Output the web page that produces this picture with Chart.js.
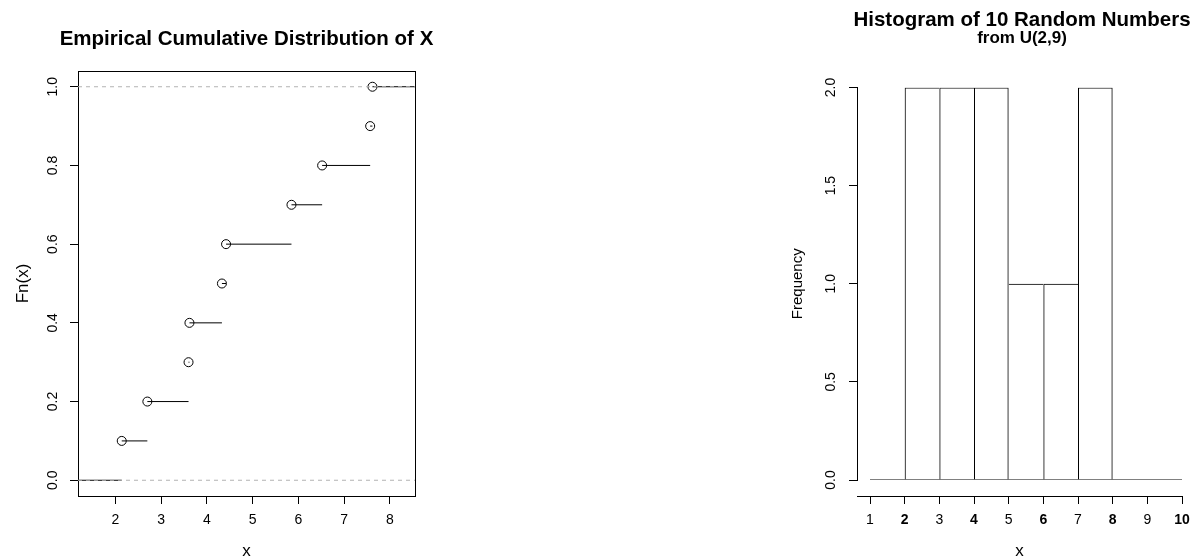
<!DOCTYPE html>
<html>
<head>
<meta charset="utf-8">
<script src="https://cdn.jsdelivr.net/npm/chart.js@4.4.1/dist/chart.umd.min.js"></script>
<style>
  html, body { margin: 0; padding: 0; background: #fff; overflow: hidden; width: 1193px; height: 560px; }
  #ecdf { position: absolute; left: 0; top: 0; }
  #hist { position: absolute; left: 700px; top: 0; }
</style>
</head>
<body>
<canvas id="ecdf" width="493" height="560"></canvas>
<canvas id="hist" width="644" height="560"></canvas>
<script>
// ---- ECDF panel data ----
const ecdfX = [2.14, 2.70, 3.60, 3.62, 4.33, 4.42, 5.85, 6.52, 7.57, 7.62];   // sorted sample
const ecdfY = [0.1, 0.2, 0.3, 0.4, 0.5, 0.6, 0.7, 0.8, 0.9, 1.0];            // Fn(x) levels
const ecdfXTicks = [2, 3, 4, 5, 6, 7, 8];
const ecdfYTicks = [0, 0.2, 0.4, 0.6, 0.8, 1.0];
const ecdfXRange = [1.184, 8.55];
const ecdfYRange = [-0.04, 1.04];
const refLevels = [0, 1];

// ---- Histogram panel data ----
const histBreaks = [1, 2, 3, 4, 5, 6, 7, 8, 9, 10];
const histCounts = [0, 2, 2, 2, 1, 1, 2, 0, 0];
const histXTicks = [1, 2, 3, 4, 5, 6, 7, 8, 9, 10];
const histYTicks = [0, 0.5, 1.0, 1.5, 2.0];
const histXRange = [0.625, 10];
const histYRange = [0, 2];

const FONT = "'Liberation Sans', Arial, Helvetica, sans-serif";
const TICK_SIZE = 14;
Chart.defaults.font.family = FONT;
Chart.defaults.color = '#000';

const mctx = document.createElement('canvas').getContext('2d');
function textWidth(t, size) { mctx.font = size + 'px ' + FONT; return mctx.measureText(t).width; }
const yLabelW = textWidth('0.0', TICK_SIZE);

const setTicks = list => axis => { axis.ticks = list.map(v => ({ value: v })); };
const fixWidth = w => axis => { axis.width = w; };
const fixHeight = h => axis => { axis.height = h; };

const axisGrid = { display: true, drawOnChartArea: false, drawTicks: true, tickLength: 8, color: '#000', lineWidth: 1 };
const axisBorder = { display: true, color: '#000', width: 1 };
const frameSide = (pos, size) => ({
  type: 'linear', position: pos, display: true,
  ticks: { display: false }, grid: { display: false }, border: axisBorder,
  afterFit: pos === 'top' ? fixHeight(size) : fixWidth(size)
});
const commonOpts = {
  responsive: false, animation: false, events: [], devicePixelRatio: 1,
  layout: { padding: 0 }
};

// ---- step segments of the empirical CDF ----
const stepLevels = [0, ...ecdfY];
const stepEdges = [ecdfXRange[0], ...ecdfX, ecdfXRange[1]];
const stepData = [];
for (let i = 0; i < stepLevels.length; i++) {
  stepData.push({ x: stepEdges[i], y: stepLevels[i] }, { x: stepEdges[i + 1], y: stepLevels[i] }, { x: stepEdges[i + 1], y: null });
}
const refData = [];
refLevels.forEach(l => refData.push({ x: ecdfXRange[0], y: l }, { x: ecdfXRange[1], y: l }, { x: ecdfXRange[1], y: null }));

new Chart(document.getElementById('ecdf'), {
  type: 'scatter',
  data: {
    datasets: [
      { type: 'line', data: refData, borderColor: '#b3b3b3', borderWidth: 1, borderDash: [4, 4], pointRadius: 0, order: 0 },
      { type: 'scatter', data: ecdfX.map((x, i) => ({ x: x, y: ecdfY[i] })), showLine: false,
        pointRadius: 4.5, pointBorderWidth: 1, pointBorderColor: '#000', pointBackgroundColor: 'rgba(0,0,0,0)', order: 1 },
      { type: 'line', data: stepData, borderColor: '#000', borderWidth: 1, pointRadius: 0, spanGaps: false, order: 2 }
    ]
  },
  options: Object.assign({}, commonOpts, {
    plugins: {
      legend: { display: false }, tooltip: { enabled: false },
      title: { display: true, text: 'Empirical Cumulative Distribution of X', color: '#000',
        font: { size: 20.5, weight: 'bold', lineHeight: 1.2 }, padding: { top: 27, bottom: 19.4 } }
    },
    scales: {
      x: {
        type: 'linear', position: 'bottom', min: ecdfXRange[0], max: ecdfXRange[1],
        afterBuildTicks: setTicks(ecdfXTicks), afterFit: fixHeight(64),
        ticks: { autoSkip: false, maxRotation: 0, padding: 7.9, font: { size: TICK_SIZE }, color: '#000', callback: v => String(v) },
        grid: axisGrid, border: axisBorder,
        title: { display: true, text: 'x', color: '#000', font: { size: 17, lineHeight: 1 }, padding: { top: 0, bottom: 0 } }
      },
      y: {
        type: 'linear', position: 'left', min: ecdfYRange[0], max: ecdfYRange[1],
        afterBuildTicks: setTicks(ecdfYTicks), afterFit: fixWidth(78),
        ticks: { autoSkip: false, minRotation: 90, maxRotation: 90, crossAlign: 'center', padding: 16.7 - yLabelW / 2,
          font: { size: TICK_SIZE }, color: '#000', callback: v => v.toFixed(1) },
        grid: axisGrid, border: axisBorder,
        title: { display: true, text: 'Fn(x)', color: '#000', font: { size: 17, lineHeight: 1 }, padding: { top: 14.5, bottom: 0 } }
      },
      xt: frameSide('top', 0),
      yr: frameSide('right', 78)
    }
  })
});

// ---- histogram ----
const binMid = histCounts.map((c, i) => (histBreaks[i] + histBreaks[i + 1]) / 2);
function barEdges(ctx) {
  const i = ctx.dataIndex;
  const c = histCounts[i];
  const prev = i > 0 ? histCounts[i - 1] : 0;
  const next = i < histCounts.length - 1 ? histCounts[i + 1] : 0;
  return { top: c > 0 ? 1 : 0, left: c > 0 && c >= prev ? 1 : 0, right: c > 0 && c > next ? 1 : 0, bottom: 0 };
}

new Chart(document.getElementById('hist'), {
  type: 'bar',
  data: {
    datasets: [
      { type: 'line', data: [{ x: histBreaks[0], y: 0 }, { x: histBreaks[histBreaks.length - 1], y: 0 }],
        borderColor: '#000', borderWidth: 1, pointRadius: 0, order: 0 },
      { type: 'bar', data: binMid.map((m, i) => ({ x: m, y: histCounts[i] })),
        backgroundColor: 'rgba(0,0,0,0)', borderColor: '#000', borderWidth: barEdges, borderSkipped: false,
        barPercentage: 1, categoryPercentage: 1, inflateAmount: 0, order: 1 }
    ]
  },
  options: Object.assign({}, commonOpts, {
    plugins: {
      legend: { display: false }, tooltip: { enabled: false },
      title: { display: true, text: 'Histogram of 10 Random Numbers', color: '#000',
        font: { size: 20.5, weight: 'bold', lineHeight: 1 }, padding: { top: 9.75, bottom: 0 } },
      subtitle: { display: true, text: 'from U(2,9)', color: '#000',
        font: { size: 17, weight: 'bold', lineHeight: 1 }, padding: { top: 0, bottom: 40.25 } }
    },
    scales: {
      x: {
        type: 'linear', position: 'bottom', weight: 1, offset: false, min: histXRange[0], max: histXRange[1],
        afterBuildTicks: setTicks(histXTicks), afterFit: fixHeight(64),
        ticks: { autoSkip: false, maxRotation: 0, padding: 8.2, color: '#000', callback: v => String(v),
          font: ctx => ({ size: TICK_SIZE, weight: (ctx.tick && ctx.tick.value % 2 === 0) ? 'bold' : 'normal' }) },
        grid: Object.assign({}, axisGrid, { offset: false }), border: axisBorder,
        title: { display: true, text: 'x', color: '#000', font: { size: 17, lineHeight: 1 }, padding: { top: 0, bottom: 0 } }
      },
      xs: {
        type: 'linear', position: 'bottom', weight: 0, display: true, min: histXRange[0], max: histXRange[1],
        ticks: { display: false }, grid: { display: false }, border: { display: false },
        afterFit: fixHeight(16)
      },
      y: {
        type: 'linear', position: 'left', min: histYRange[0], max: histYRange[1],
        afterBuildTicks: setTicks(histYTicks), afterFit: fixWidth(157),
        ticks: { autoSkip: false, minRotation: 90, maxRotation: 90, crossAlign: 'center', padding: 17.5 - yLabelW / 2,
          font: { size: TICK_SIZE }, color: '#000', callback: v => v.toFixed(1) },
        grid: axisGrid, border: axisBorder,
        title: { display: true, text: 'Frequency', color: '#000', font: { size: 15, lineHeight: 1 }, padding: { top: 90, bottom: 0 } }
      },
      yr: {
        type: 'linear', position: 'right', display: true,
        ticks: { display: false }, grid: { display: false }, border: { display: false },
        afterFit: fixWidth(162)
      }
    }
  })
});
</script>
</body>
</html>
